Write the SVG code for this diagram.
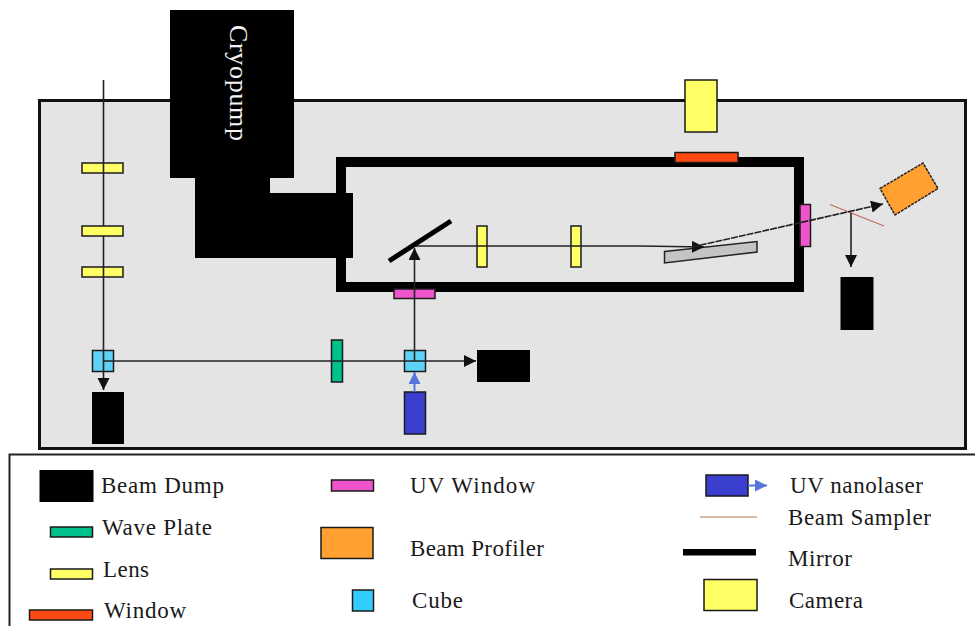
<svg xmlns="http://www.w3.org/2000/svg" width="975" height="626" viewBox="0 0 975 626">
<style>
.t{font-family:"Liberation Serif","Times New Roman",serif;font-size:23px;fill:#1a1a1a}
.o{stroke:#1a1a1a;stroke-width:1.5}
.y{fill:#ffff66}.g{fill:#00c08c}.c{fill:#33ccff}.m{fill:#ee55cc}.r{fill:#ff4a14}.b{fill:#3a3fd0}.p{fill:#ffa030}
.l{stroke:#222;stroke-width:1.6;fill:none}
</style>
<defs>
<marker id="a" markerWidth="14" markerHeight="14" refX="12" refY="6" orient="auto" markerUnits="userSpaceOnUse"><path d="M0 0L12 6L0 12Z" fill="#111"/></marker>
<marker id="u" markerWidth="14" markerHeight="14" refX="12" refY="6" orient="auto" markerUnits="userSpaceOnUse"><path d="M0 0L12 6L0 12Z" fill="#5577dd"/></marker>
</defs>
<rect width="975" height="626" fill="#fff"/>
<g id="table"><rect x="39.500" y="100.500" width="926" height="348" fill="#e4e4e4" stroke="#111" stroke-width="3"/></g>
<g id="legend-box"><path d="M975 454.500H9.500V626" fill="none" stroke="#222" stroke-width="2"/></g>
<g id="chamber"><rect x="341" y="162" width="458" height="125" fill="none" stroke="#000" stroke-width="10"/></g>
<g id="cryopump"><path d="M170 10H294V178H270V193H353V258H195V178H170Z" fill="#000"/>
<text transform="translate(230 25) rotate(90)" font-family="'Liberation Serif',serif" font-size="26" fill="#f2f2f2" textLength="116">Cryopump</text></g>
<g id="lens1"><rect class="y o" x="82" y="163" width="41" height="10"/></g>
<g id="lens3"><rect class="y o" x="82" y="267" width="41" height="10"/></g>
<g id="cube1"><rect class="c o" x="92.500" y="350.500" width="21" height="21" fill-opacity=".75"/></g>
<g id="dump1"><rect x="92" y="392" width="32" height="52" fill="#000"/></g>
<g id="waveplate"><rect class="g o" x="331.500" y="340" width="11" height="42"/></g>
<g id="cube2"><rect class="c o" x="404.500" y="350.500" width="21" height="21" fill-opacity=".75"/></g>
<g id="dump2"><rect x="477" y="350" width="53" height="32" fill="#000"/></g>
<g id="nanolaser"><rect class="b o" x="404.500" y="392" width="21" height="42"/></g>
<g id="uvwindow1"><rect class="m o" x="394" y="289" width="41" height="9.500"/></g>
<g id="lens4"><rect class="y o" x="477" y="226" width="10" height="41"/></g>
<g id="lens5"><rect class="y o" x="571" y="226" width="10" height="41"/></g>
<g id="sample"><path d="M664.500 251.500L757 241.500V252L664.500 263Z" fill="#c4c4c4" stroke="#222" stroke-width="1.500"/></g>
<g id="camera"><rect class="y o" x="685" y="80" width="32" height="52"/></g>
<g id="window"><rect class="r o" x="675" y="152.500" width="63" height="10"/></g>
<g id="uvwindow2"><rect class="m o" x="800" y="204.500" width="10.500" height="42"/></g>
<g id="sampler"><path d="M830 204.500L884 226" stroke="#c06a60" stroke-width="1.200"/></g>
<g id="profiler"><path class="p" d="M880 188.500L923 163L938 188.500L895 215Z" stroke="#222" stroke-width="1.500" stroke-dasharray="3 1"/></g>
<g id="dump3"><rect x="840.500" y="277" width="33" height="53" fill="#000"/></g>
<g id="connectors">
<path class="l" d="M103.500 80V390" marker-end="url(#a)"/>
<path class="l" d="M103.500 361H476" marker-end="url(#a)" stroke-width="2"/>
<path class="l" d="M414.500 361V248" marker-end="url(#a)"/>
<path class="l" d="M414.500 246H640L704 247" marker-end="url(#a)"/>
<path class="l" d="M692 247L883 204" marker-end="url(#a)" stroke-dasharray="7 1"/>
<path class="l" d="M851 213V267" marker-end="url(#a)"/>
<path d="M414.500 392V372" stroke="#5577dd" stroke-width="2" fill="none" marker-end="url(#u)"/>
</g>
<g id="lens2"><rect class="y o" x="82" y="226" width="41" height="10"/></g>
<g id="mirror"><path d="M389 261L451 221" stroke="#000" stroke-width="5"/></g>
<g id="legend-dump"><rect x="39.500" y="470" width="54" height="32" fill="#000"/><text class="t" x="101" y="493" textLength="123">Beam Dump</text></g>
<g id="legend-wave"><rect class="g o" x="50.500" y="527" width="42" height="10"/><text class="t" x="102" y="535" textLength="110">Wave Plate</text></g>
<g id="legend-lens"><rect class="y o" x="50.500" y="569" width="42" height="10"/><text class="t" x="103" y="577" textLength="46">Lens</text></g>
<g id="legend-window"><rect class="r o" x="29.500" y="610" width="63" height="10"/><text class="t" x="104" y="618" textLength="82">Window</text></g>
<g id="legend-uv"><rect class="m o" x="331.500" y="480" width="42" height="11"/><text class="t" x="410" y="493" textLength="125">UV Window</text></g>
<g id="legend-profiler"><rect class="p o" x="321" y="527.500" width="52" height="31"/><text class="t" x="410" y="556" textLength="134">Beam Profiler</text></g>
<g id="legend-cube"><rect class="c o" x="352.500" y="590" width="21" height="21"/><text class="t" x="412" y="608" textLength="51">Cube</text></g>
<g id="legend-nano"><rect class="b o" x="706" y="475" width="42" height="21"/><path d="M748 485.500H767" stroke="#5577dd" stroke-width="2" fill="none" marker-end="url(#u)"/><text class="t" x="790" y="493" textLength="133">UV nanolaser</text></g>
<g id="legend-sampler"><path d="M700 517H757" stroke="#c9a088" stroke-width="1.500"/><text class="t" x="788" y="525" textLength="143">Beam Sampler</text></g>
<g id="legend-mirror"><rect x="683" y="549" width="73" height="6.500" fill="#000"/><text class="t" x="788" y="566" textLength="64">Mirror</text></g>
<g id="legend-camera"><rect class="y o" x="704" y="579.500" width="53" height="31"/><text class="t" x="789" y="608" textLength="74">Camera</text></g>
</svg>
